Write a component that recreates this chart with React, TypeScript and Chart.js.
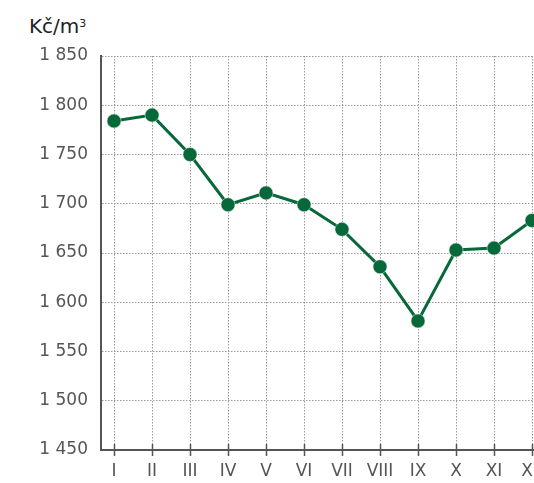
import React, { useEffect, useRef } from "react";
import { Chart, registerables } from "chart.js";

Chart.register(...registerables);

const months = ["I", "II", "III", "IV", "V", "VI", "VII", "VIII", "IX", "X", "XI", "XII"];
const prices = [1784, 1790, 1750, 1699, 1711, 1699, 1674, 1636, 1581, 1653, 1655, 1683];
const yTicks = [1450, 1500, 1550, 1600, 1650, 1700, 1750, 1800, 1850];
const unitLabel = "Kč/m";

const GREEN = "#07683a";
const AXIS = "#555555";
const GRID = "#9a9a9a";
const FONT = "'DejaVu Sans', sans-serif";

const tickMarks = {
  id: "tickMarks",
  afterDraw(chart: any) {
    const x = chart.scales.x;
    const ctx = chart.ctx;
    const b = chart.chartArea.bottom;
    ctx.save();
    ctx.strokeStyle = AXIS;
    ctx.lineWidth = 1.5;
    x.ticks.forEach((t: any) => {
      const px = Math.round(x.getPixelForValue(t.value)) + 0.5;
      ctx.beginPath();
      ctx.moveTo(px, b - 6);
      ctx.lineTo(px, b + 6);
      ctx.stroke();
    });
    ctx.restore();
  },
};

export default function App() {
  const ref = useRef<HTMLCanvasElement>(null);
  useEffect(() => {
    if (!ref.current) return;
    const chart = new Chart(ref.current, {
      type: "line",
      data: {
        datasets: [
          {
            data: prices.map((v, i) => ({ x: i + 1, y: v })),
            borderColor: GREEN,
            backgroundColor: GREEN,
            borderWidth: 3,
            pointRadius: 7,
            pointBorderWidth: 0.5,
            pointBorderColor: "#e8f0ea",
            pointBackgroundColor: GREEN,
            tension: 0,
            clip: false,
          } as any,
        ],
      },
      options: {
        responsive: false,
        animation: false,
        devicePixelRatio: 1,
        layout: { padding: { left: 0, top: 56, right: 18, bottom: 0 } },
        plugins: { legend: { display: false }, tooltip: { enabled: false }, title: { display: false } },
        scales: {
          x: {
            type: "linear",
            min: 1 - 13 / 38,
            max: 12.526,
            afterBuildTicks: (s: any) => {
              s.ticks = months.map((_, i) => ({ value: i + 1 }));
            },
            afterFit: (s: any) => {
              s.height = 33;
            },
            ticks: {
              autoSkip: false,
              maxRotation: 0,
              padding: 5,
              color: AXIS,
              font: { family: FONT, size: 17 },
              callback: (v: any) => months[Number(v) - 1] ?? "",
            },
            grid: {
              color: GRID,
              lineWidth: 1,
              drawTicks: true,
              tickLength: 6,
              tickColor: "transparent",
            },
            border: { display: true, color: AXIS, width: 2, dash: [1.5, 1.5] },
          },
          y: {
            type: "linear",
            min: 1450,
            max: 1850,
            afterBuildTicks: (s: any) => {
              s.ticks = yTicks.map((v) => ({ value: v }));
            },
            afterFit: (s: any) => {
              s.width = 101;
            },
            ticks: {
              padding: 13,
              color: AXIS,
              font: { family: FONT, size: 17 },
              callback: (v: any) => {
                const s = String(v);
                return s.slice(0, s.length - 3) + " " + s.slice(-3);
              },
            },
            grid: { color: GRID, lineWidth: 1, drawTicks: false },
            border: { display: true, color: AXIS, width: 2, dash: [1.5, 1.5] },
          },
        },
      },
      plugins: [tickMarks],
    } as any);
    return () => chart.destroy();
  }, []);

  return (
    <div
      style={{
        position: "fixed",
        left: 0,
        top: 0,
        width: 534,
        height: 483,
        overflow: "hidden",
        background: "#ffffff",
      }}
    >
      <div
        style={{
          position: "absolute",
          left: 29,
          top: 14,
          fontFamily: FONT,
          fontSize: 20,
          color: "#222222",
          lineHeight: "24px",
        }}
      >
        {unitLabel}
        <sup style={{ fontSize: 11, verticalAlign: "top", position: "relative", top: -2 }}>3</sup>
      </div>
      <canvas ref={ref} width={570} height={483} style={{ position: "absolute", left: 0, top: 0 }} />
    </div>
  );
}
